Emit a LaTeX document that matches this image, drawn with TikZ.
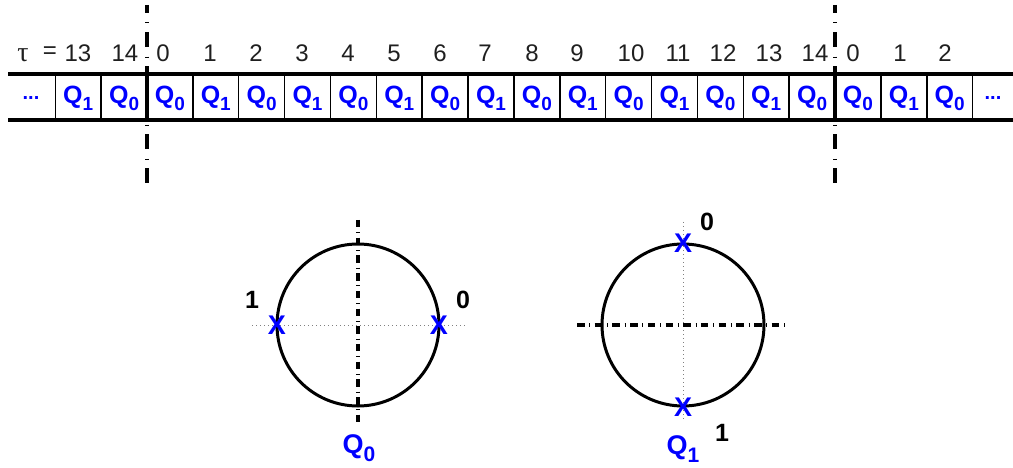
\documentclass[tikz,border=0pt]{standalone}
\usepackage{fontspec}
\setmainfont{Liberation Sans}
\newfontfamily\greekserif{Liberation Serif}
\newcommand\qsub[1]{Q\raisebox{-7pt}{\fontsize{19}{19}\selectfont #1}}
\begin{document}
\begin{tikzpicture}[x=1pt,y=-1pt,
  band/.style={line width=4pt},
  sep/.style={line width=1.5pt},
  cut/.style={line width=3.5pt, dash pattern=on 15pt off 9.5pt on 0.6pt off 9pt, dash phase=7pt},
  axisline/.style={line width=3.6pt, dash pattern=on 7.5pt off 4.8pt on 0.6pt off 4.8pt},
  guide/.style={line width=0.7pt, gray, dash pattern=on 1pt off 3pt},
  ring/.style={line width=3pt},
  qlab/.style={text=blue, font=\fontsize{25}{28}\selectfont\bfseries, inner sep=0pt},
  num/.style={font=\fontsize{24}{28}\selectfont, inner sep=0pt, text=black!88},
  xmark/.style={text=blue, font=\fontsize{27}{28}\selectfont\bfseries, inner sep=0pt},
  bit/.style={font=\fontsize{25}{28}\selectfont\bfseries, inner sep=0pt},
  dots/.style={text=blue, font=\fontsize{20}{24}\selectfont\bfseries, inner sep=0pt, anchor=base}]
\useasboundingbox (0,0) rectangle (1013,468);

% band
\coordinate (bl1) at (8,74);   \coordinate (br1) at (1013,74);
\coordinate (bl2) at (8,120);  \coordinate (br2) at (1013,120);
\draw[band] (bl1) -- (br1);
\draw[band] (bl2) -- (br2);

% cell separators
\foreach \k in {-2,-1,1,2,3,4,5,6,7,8,9,10,11,12,13,14,16,17,18}
  \draw[sep] ({147+45.87*\k},74) -- ({147+45.87*\k},120);

% cut lines
\coordinate (ct1) at (147,5);   \coordinate (cb1) at (147,190);
\coordinate (ct2) at (835,5);   \coordinate (cb2) at (835,190);
\draw[cut] (ct1) -- (cb1);
\draw[cut] (ct2) -- (cb2);
\draw[band] (147,74) -- (147,120);
\draw[band] (835,74) -- (835,120);

% cell contents
\foreach \i/\s in {0/1,1/0,2/0,3/1,4/0,5/1,6/0,7/1,8/0,9/1,10/0,11/1,12/0,13/1,14/0,15/1,16/0,17/0,18/1,19/0}
  \node[qlab] (cell\i) at ({147+45.87*(\i-2+0.5)},98) {\qsub{\s}};
\node[dots] (dl) at (31,100) {...};
\node[dots] (dr) at (993,100) {...};

% tau labels
\node[num, font=\fontsize{28}{28}\selectfont\greekserif] (tau) at (23,55) {τ};
\node[num] (eq) at (50,53) {=};
\foreach \i/\t/\x in {0/13/78,1/14/125,2/0/163,3/1/210,4/2/256,5/3/302,6/4/348,7/5/394,8/6/440,9/7/485,10/8/532,11/9/577,12/10/631,13/11/678,14/12/723,15/13/769,16/14/815,17/0/853,18/1/900,19/2/945}
  \node[num] (t\i) at (\x,53) {\t};

% left circle (Q0)
\node[circle, draw, ring, minimum size=162pt, inner sep=0pt] (c0) at (358,325) {};
\coordinate (a0t) at (358,220); \coordinate (a0b) at (358,423);
\coordinate (g0l) at (252,325); \coordinate (g0r) at (465,325);
\draw[guide] (g0l) -- (g0r);
\draw[axisline] (a0t) -- (a0b);
\node[xmark] (x01) at (277,325) {X};
\node[xmark] (x00) at (439,325) {X};
\node[bit] (b01) at (252,300) {1};
\node[bit] (b00) at (463,300) {0};
\node[qlab, font=\fontsize{27}{28}\selectfont\bfseries] (q0) at (359,448) {Q\raisebox{-8pt}{\fontsize{21}{21}\selectfont 0}};

% right circle (Q1)
\node[circle, draw, ring, minimum size=162pt, inner sep=0pt] (c1) at (683,325) {};
\coordinate (a1l) at (577,325); \coordinate (a1r) at (787,325);
\coordinate (g1t) at (683,222); \coordinate (g1b) at (683,422);
\draw[guide] (g1t) -- (g1b);
\draw[axisline] (a1l) -- (a1r);
\node[xmark] (x10) at (683,243) {X};
\node[xmark] (x11) at (683,407) {X};
\node[bit] (b10) at (707,222) {0};
\node[bit] (b11) at (722,433) {1};
\node[qlab, font=\fontsize{27}{28}\selectfont\bfseries] (q1) at (683,449) {Q\raisebox{-8pt}{\fontsize{21}{21}\selectfont 1}};
\end{tikzpicture}
\end{document}
